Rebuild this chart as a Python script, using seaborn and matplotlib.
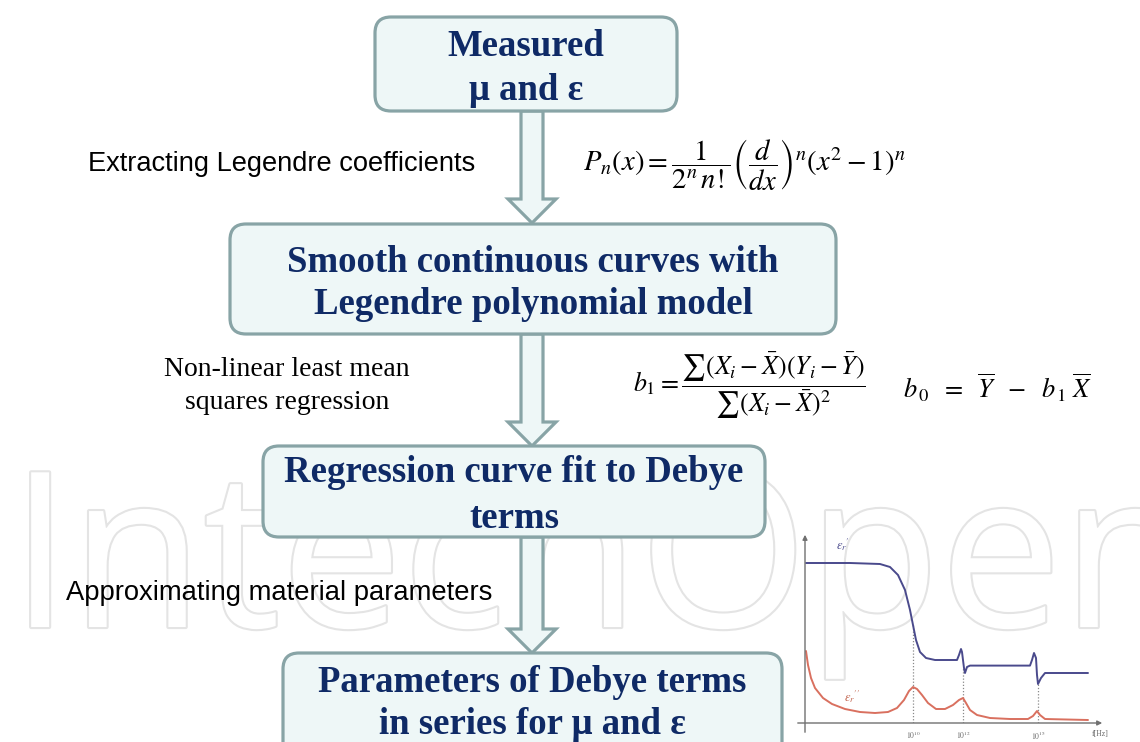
import numpy as np
import pandas as pd
import matplotlib
matplotlib.use("Agg")
import matplotlib.pyplot as plt
import matplotlib.patches as mpatches
import matplotlib.patheffects as pe
import seaborn as sns

# ---------------- data ----------------
box_lines = [
    ["Measured", "\u03bc and \u03b5"],
    ["Smooth continuous curves with", "Legendre polynomial model"],
    ["Regression curve fit to Debye", "terms"],
    ["Parameters of Debye terms", "in series for \u03bc and \u03b5"],
]
step_labels = [
    "Extracting Legendre coefficients",
    "Non-linear least mean\nsquares regression",
    "Approximating material parameters",
]
# inset: log10(frequency) and relative permittivity readings
eps_real_logf = [5.72, 7.48, 8.68, 9.08, 9.40, 9.68, 9.88, 10.00, 10.12, 10.28, 10.52, 10.88,
                 11.76, 11.84, 11.92, 11.96, 12.04, 12.08, 12.16, 12.28, 14.68, 14.76, 14.84,
                 14.92, 14.96, 15.00, 15.12, 15.28, 17.00]
eps_real_val = [8.00, 8.00, 7.95, 7.80, 7.40, 6.65, 5.65, 4.90, 4.15, 3.55, 3.25, 3.15,
                3.15, 3.40, 3.70, 3.55, 2.75, 2.50, 2.80, 2.87, 2.87, 3.15, 3.50,
                3.25, 2.40, 1.95, 2.25, 2.50, 2.50]
eps_imag_logf = [5.72, 5.80, 5.92, 6.08, 6.40, 6.76, 7.28, 7.88, 8.48, 9.00, 9.36, 9.64, 9.84,
                 10.00, 10.16, 10.36, 10.60, 10.92, 11.28, 11.60, 11.84, 12.00, 12.12, 12.28,
                 12.56, 13.08, 13.88, 14.60, 14.80, 14.96, 15.08, 15.28, 17.00]
eps_imag_val = [3.60, 2.90, 2.25, 1.75, 1.25, 0.95, 0.70, 0.55, 0.50, 0.55, 0.75, 1.15, 1.60,
                1.80, 1.70, 1.40, 1.00, 0.70, 0.70, 0.90, 1.15, 1.25, 1.00, 0.65,
                0.40, 0.25, 0.20, 0.20, 0.35, 0.60, 0.40, 0.20, 0.15]
relax_logf = [10, 12, 15]
relax_top = [4.90, 2.75, 1.95]
tick_labels = ["$10^{10}$", "$10^{12}$", "$10^{15}$"]

# ---------------- style ----------------
sns.set_style("white")
plt.rcParams["font.family"] = ["Liberation Serif", "DejaVu Serif"]
plt.rcParams["mathtext.fontset"] = "stix"

W, H = 1140, 742
fig = plt.figure(figsize=(W / 100, H / 100), dpi=100)
ax = fig.add_axes([0, 0, 1, 1])
ax.set_xlim(0, W)
ax.set_ylim(H, 0)
ax.axis("off")

NAVY = "#0f2a66"
EDGE = "#88a4a6"
FILL = "#eef7f7"

# watermark
ax.text(10, 627, "IntechOpen", fontsize=156, family="Open Sans", color="white",
        ha="left", va="baseline", zorder=0,
        path_effects=[pe.withStroke(linewidth=3, foreground="#e4e4e4")])

# boxes (x0, y0, x1, y1) and text line centres
boxes = [(375, 17, 677, 111), (230, 224, 836, 334), (263, 446, 765, 537), (283, 653, 782, 770)]
line_y = [(47, 91), (262, 305), (473, 518), (682, 724)]
for (x0, y0, x1, y1), lines, (ya, yb) in zip(boxes, box_lines, line_y):
    p = mpatches.FancyBboxPatch((x0, y0), x1 - x0, y1 - y0,
                                boxstyle="round,pad=0,rounding_size=16",
                                fc=FILL, ec=EDGE, lw=2.3, zorder=3)
    ax.add_patch(p)
    cx = (x0 + x1) / 2
    ax.text(cx, ya, lines[0], ha="center", va="center", fontsize=26.5,
            fontweight="bold", color=NAVY, zorder=4)
    ax.text(cx, yb, lines[1], ha="center", va="center", fontsize=26.5,
            fontweight="bold", color=NAVY, zorder=4)

# arrows between boxes
ACX = 532
for (ya, yb) in [(111, 223), (334, 446), (537, 653)]:
    ar = mpatches.FancyArrow(ACX, ya, 0, yb - ya, width=22, head_width=48, head_length=24,
                             length_includes_head=True, fc=FILL, ec=EDGE, lw=2.3, zorder=2)
    ax.add_patch(ar)

# step labels
ax.text(88, 164, step_labels[0], ha="left", va="center", fontsize=19.6,
        family="Liberation Sans", color="black", zorder=5)
ax.text(287, 386, step_labels[1], ha="center", va="center", fontsize=20,
        color="black", linespacing=1.42, zorder=5)
ax.text(66, 593, step_labels[2], ha="left", va="center", fontsize=19.7,
        family="Liberation Sans", color="black", zorder=5)

# formulas
ax.text(583, 165, r"$P_n(x) = \dfrac{1}{2^n\,n!}\left(\dfrac{d}{dx}\right)^{n}\left(x^2-1\right)^{n}$",
        ha="left", va="center", fontsize=20.6, color="black", zorder=5)
ax.text(633, 386, r"$b_1 = \dfrac{\sum(X_i-\bar{X})(Y_i-\bar{Y})}{\sum(X_i-\bar{X})^2}$",
        ha="left", va="center", fontsize=18.7, color="black", zorder=5)
ax.text(903, 388, r"$b_{\,0}\;\ =\;\ \overline{Y}\;\ -\;\ b_{\,1}\;\overline{X}$",
        ha="left", va="center", fontsize=19, color="black", zorder=5)

# ---------------- inset chart ----------------
px0, px1, py_bot, py_top = 805, 1110, 723, 532
ins = fig.add_axes([px0 / W, (H - py_bot) / H, (px1 - px0) / W, (py_bot - py_top) / H])
ins.patch.set_alpha(0)
xmin = 10 + (px0 - 913) / 25
xmax = 10 + (px1 - 913) / 25
ymax = (py_bot - py_top) / 20
ins.set_xlim(xmin, xmax)
ins.set_ylim(0, ymax)
for s in ins.spines.values():
    s.set_visible(False)
ins.set_xticks([])
ins.set_yticks([])

df_r = pd.DataFrame({"logf": eps_real_logf, "eps": eps_real_val})
df_i = pd.DataFrame({"logf": eps_imag_logf, "eps": eps_imag_val})
ins.vlines(relax_logf, 0, relax_top, colors="#8a8a8a", linestyles=(0, (1, 1.5)), lw=0.9, zorder=1)
sns.lineplot(data=df_r, x="logf", y="eps", ax=ins, color="#4a4a8c", lw=1.4, zorder=3)
sns.lineplot(data=df_i, x="logf", y="eps", ax=ins, color="#d9705f", lw=1.4, zorder=3)
ins.set_xlabel("")
ins.set_ylabel("")

GR = "#707070"
ins.annotate("", xy=(xmin, ymax), xytext=(xmin, -0.6), annotation_clip=False,
             arrowprops=dict(arrowstyle="-|>", color=GR, lw=1.0, mutation_scale=7))
ins.annotate("", xy=(xmax - 0.2, 0), xytext=(xmin - 0.4, 0), annotation_clip=False,
             arrowprops=dict(arrowstyle="-|>", color=GR, lw=1.0, mutation_scale=7))
for xv, lab in zip(relax_logf, tick_labels):
    ins.text(xv, -0.35, lab, ha="center", va="top", fontsize=5.5, color="#666666", clip_on=False)
ins.text(xmax - 0.4, -0.35, "f[Hz]", ha="center", va="top", fontsize=5.5, color="#666666",
         clip_on=False)
ins.text(7.2, 8.9, r"$\varepsilon_r{}'$", fontsize=9, color="#4a4a8c", ha="center", va="center")
ins.text(7.55, 1.3, r"$\varepsilon_r{}''$", fontsize=9, color="#c0604a", ha="center", va="center")

fig.savefig("out.png", dpi=100)
